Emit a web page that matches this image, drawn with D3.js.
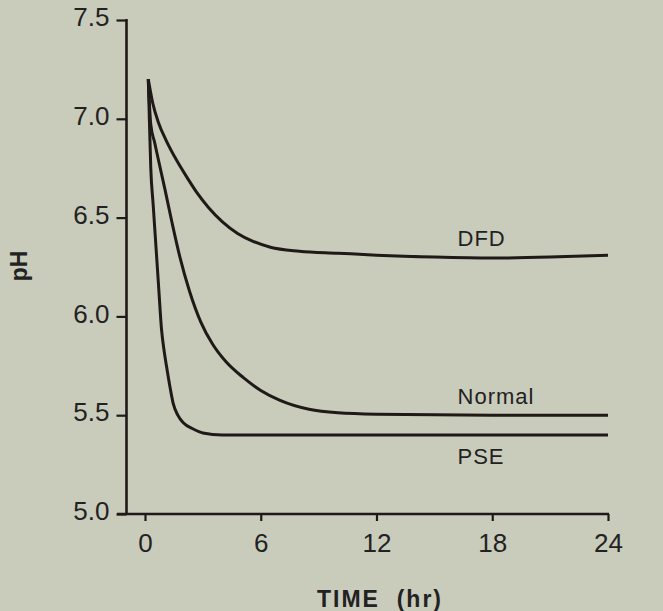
<!DOCTYPE html>
<html><head><meta charset="utf-8">
<script src="https://cdn.jsdelivr.net/npm/d3@7"></script>
<style>
html,body{margin:0;padding:0;background:#c9cbbb;}
svg{display:block;}
</style></head>
<body>
<svg id="chart" width="663" height="611"></svg>
<script>
// ---- data ----
const xTicks = [0, 6, 12, 18, 24];
const yTicks = [5.0, 5.5, 6.0, 6.5, 7.0, 7.5];
const seriesNames = ["DFD", "Normal", "PSE"];
const dfdTime  = [0.17, 0.4, 0.7, 1.1, 1.64, 2.2, 2.7, 3.3, 4.0, 4.8, 5.6, 6.5, 8, 10, 12, 15, 18, 21, 24];
const dfdPH    = [7.2, 7.08, 6.98, 6.89, 6.79, 6.70, 6.625, 6.55, 6.48, 6.42, 6.38, 6.35, 6.33, 6.32, 6.31, 6.30, 6.295, 6.30, 6.31];
const normalTime = [0.17, 0.3, 0.5, 0.7, 1.04, 1.4, 1.81, 2.3, 2.9, 3.5, 4.2, 5.1, 6.0, 7.0, 8.5, 10, 12, 18, 24];
const normalPH   = [7.2, 6.97, 6.88, 6.79, 6.64, 6.475, 6.30, 6.13, 5.97, 5.86, 5.77, 5.69, 5.625, 5.575, 5.53, 5.512, 5.505, 5.50, 5.50];
const pseTime = [0.17, 0.24, 0.30, 0.42, 0.55, 0.70, 0.86, 1.0, 1.12, 1.3, 1.46, 1.7, 2.0, 2.5, 3.0, 4.0, 12, 24];
const psePH   = [7.2, 6.95, 6.75, 6.57, 6.38, 6.16, 5.93, 5.82, 5.745, 5.64, 5.56, 5.50, 5.46, 5.43, 5.41, 5.40, 5.40, 5.40];
const labelTime = 16.2;

const series = [
  {name: "DFD", t: dfdTime, p: dfdPH, dy: -9},
  {name: "Normal", t: normalTime, p: normalPH, dy: -11},
  {name: "PSE", t: pseTime, p: psePH, dy: 29}
];

// ---- drawing ----
const svg = d3.select("#chart");
const ink = "#1f1a17";
const x = d3.scaleLinear().domain([0, 24]).range([145, 608]);
const y = d3.scaleLinear().domain([5, 7.5]).range([514, 20]);
const font = "'Liberation Sans', Arial, Helvetica, sans-serif";

// y axis
const gy = svg.append("g").attr("transform", "translate(126.5,0)")
  .call(d3.axisLeft(y).tickValues(yTicks).tickSize(10).tickPadding(7).tickFormat(d3.format(".1f")));
gy.select(".domain").remove();
gy.selectAll(".tick line").attr("stroke", ink).attr("stroke-width", 2.2);
gy.selectAll(".tick text").attr("fill", "#222").attr("font-family", font).attr("font-size", 26)
  .attr("dy", "0.22em");
svg.append("line").attr("x1", 126.5).attr("x2", 126.5).attr("y1", 19).attr("y2", 515)
  .attr("stroke", ink).attr("stroke-width", 2.6);

// x axis
const gx = svg.append("g").attr("transform", "translate(0,514)")
  .call(d3.axisBottom(x).tickValues(xTicks).tickSize(7).tickPadding(13));
gx.select(".domain").remove();
gx.selectAll(".tick line").attr("stroke", ink).attr("stroke-width", 2.2);
gx.selectAll(".tick text").attr("fill", "#222").attr("font-family", font).attr("font-size", 26)
  .attr("dy", "0.71em");
svg.append("line").attr("x1", 117).attr("x2", x(24) + 1).attr("y1", 514).attr("y2", 514)
  .attr("stroke", ink).attr("stroke-width", 2.6);

// curves
const line = d3.line().x(d => x(d[0])).y(d => y(d[1])).curve(d3.curveMonotoneX);
series.forEach(s => {
  const pts = s.t.map((t, i) => [t, s.p[i]]);
  svg.append("path").attr("d", line(pts)).attr("fill", "none")
    .attr("stroke", ink).attr("stroke-width", 3).attr("stroke-linejoin", "round");
  const endP = s.p[s.p.length - 1];
  svg.append("text").attr("x", x(labelTime)).attr("y", y(endP) + s.dy)
    .attr("font-family", font).attr("font-size", 22).attr("letter-spacing", 1)
    .attr("fill", "#222").text(s.name);
});

// axis titles
svg.append("text").attr("x", 380).attr("y", 607).attr("text-anchor", "middle")
  .attr("font-family", font).attr("font-size", 23).attr("font-weight", "bold")
  .attr("letter-spacing", 2).attr("fill", "#222").style("white-space", "pre").text("TIME  (hr)");
svg.append("text").attr("transform", "translate(27,266) rotate(-90)").attr("text-anchor", "middle")
  .attr("font-family", font).attr("font-size", 23).attr("font-weight", "bold")
  .attr("fill", "#222").text("pH");
</script>
</body></html>
